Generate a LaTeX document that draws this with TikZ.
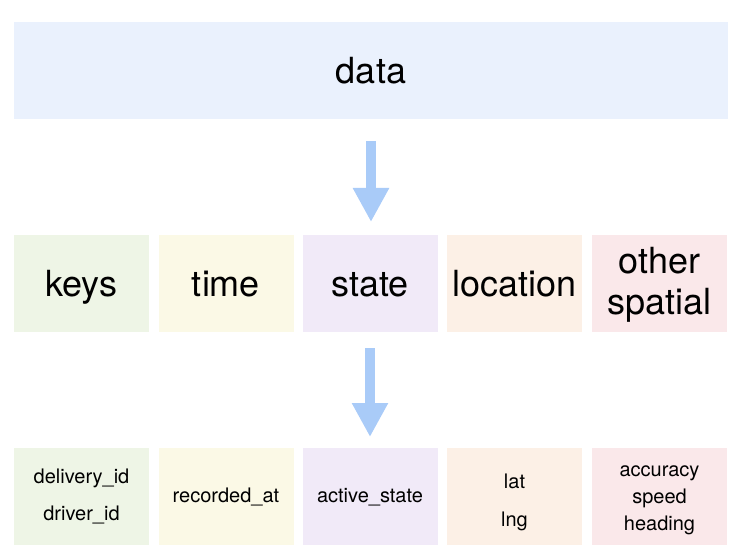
\documentclass[tikz,border=0pt]{standalone}
\usepackage{fontspec}
\setmainfont{TeX Gyre Heros}
\usetikzlibrary{arrows.meta}
\definecolor{cdata}{HTML}{EAF1FD}
\definecolor{ckeys}{HTML}{EEF5E6}
\definecolor{ctime}{HTML}{FBF9E6}
\definecolor{cstate}{HTML}{F1EAF8}
\definecolor{cloc}{HTML}{FCF0E6}
\definecolor{cother}{HTML}{FAE8EA}
\definecolor{carrow}{HTML}{A9CBF8}
\newcommand{\mylines}[1]{\begin{tabular}[t]{@{}c@{}}#1\end{tabular}}
\tikzset{
  box/.style={inner sep=0pt, outer sep=0pt, minimum width=135pt, minimum height=97pt, text=black},
  bigtext/.style={font=\fontsize{36}{41}\selectfont},
  smalltext/.style={font=\fontsize{20}{37}\selectfont},
  below base/.style={text height=#1, text depth=0pt},
  above base/.style={text height=0pt, text depth=#1},
  bigarrow/.style={draw=carrow, line width=10pt, -{Triangle[width=34pt,length=34pt,fill=carrow]}},
}
\begin{document}
\begin{tikzpicture}[x=1pt,y=-1pt]
\useasboundingbox (0,0) rectangle (742,559);
\node[box, bigtext, fill=cdata, minimum width=714pt, below base=27pt] (data) at (371,70.5) {data};
% row 2
\node[box, bigtext, fill=ckeys, below base=25pt] (keys) at (81.5,283.5) {keys};
\node[box, bigtext, fill=ctime, below base=25pt] (time) at (226,283.5) {time};
\node[box, bigtext, fill=cstate, below base=25pt] (state) at (370,283.5) {state};
\node[box, bigtext, fill=cloc, below base=25pt] (location) at (514.5,283.5) {location};
\node[box, bigtext, fill=cother, above base=21pt] (other) at (659.5,283.5) {\mylines{other\\spatial}};
% row 3
\node[box, font=\fontsize{20}{37}\selectfont, fill=ckeys, above base=27pt] (keysf) at (81.5,496.5) {\mylines{delivery\_id\\driver\_id}};
\node[box, smalltext, fill=ctime, below base=11pt] (timef) at (226,496.5) {recorded\_at};
\node[box, smalltext, fill=cstate, below base=11pt] (statef) at (370,496.5) {active\_state};
\node[box, font=\fontsize{20}{38}\selectfont, fill=cloc, above base=17pt] (locf) at (514.5,496.5) {\mylines{lat\\lng}};
\node[box, font=\fontsize{20}{27}\selectfont, fill=cother, above base=41pt] (otherf) at (659.5,496.5) {\mylines{accuracy\\speed\\heading}};
% arrows
\draw[bigarrow, shorten <=22pt, shorten >=13pt] (data.south) -- (data.south |- state.north);
\draw[bigarrow, shorten <=16pt, shorten >=11pt] (state.south) -- (statef.north);
\end{tikzpicture}
\end{document}
